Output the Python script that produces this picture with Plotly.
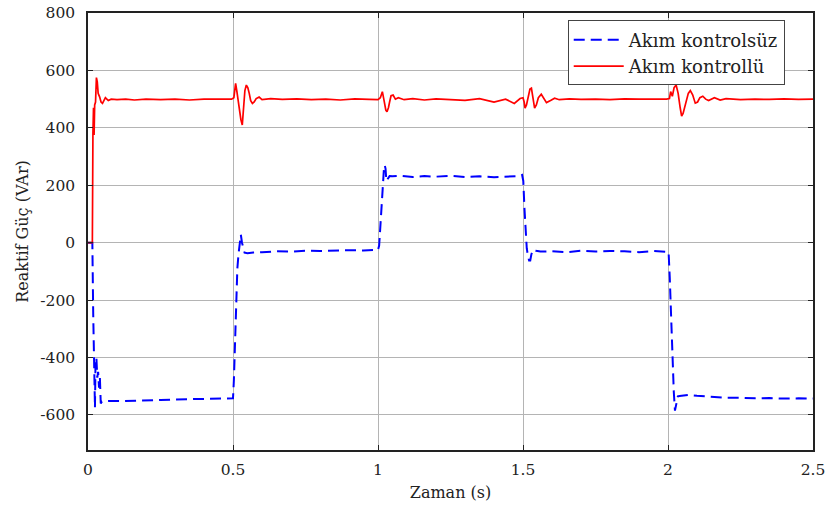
import plotly.graph_objects as go

# Akım kontrolsüz (blue dashed)
blue_t = [0, 0.015, 0.018, 0.020, 0.022, 0.024, 0.026, 0.029, 0.032, 0.035, 0.038, 0.041, 0.044, 0.048,
          0.06, 0.08, 0.12, 0.16, 0.20, 0.25, 0.30, 0.35, 0.40, 0.45, 0.49, 0.500,
          0.503, 0.507, 0.511, 0.515, 0.519, 0.523, 0.527, 0.531, 0.535, 0.540, 0.550, 0.57, 0.60, 0.65,
          0.70, 0.75, 0.80, 0.85, 0.90, 0.95, 0.99, 1.000,
          1.004, 1.008, 1.013, 1.017, 1.020, 1.023, 1.026, 1.029, 1.033, 1.040, 1.050, 1.08, 1.12, 1.16,
          1.20, 1.25, 1.30, 1.35, 1.40, 1.45, 1.49, 1.497,
          1.501, 1.505, 1.509, 1.513, 1.517, 1.521, 1.525, 1.529, 1.535, 1.545, 1.56, 1.60, 1.65, 1.70,
          1.75, 1.80, 1.85, 1.90, 1.95, 1.99, 2.002,
          2.006, 2.010, 2.015, 2.020, 2.024, 2.027, 2.030, 2.034, 2.040, 2.050, 2.07, 2.10, 2.15, 2.20,
          2.25, 2.30, 2.35, 2.40, 2.45, 2.50]
blue_v = [0, 0, -250, -420, -520, -575, -410, -400, -470, -450, -505, -470, -560, -553,
          -552, -551, -552, -550, -549, -548, -546, -545, -546, -543, -542, -542,
          -480, -330, -200, -90, -40, 10, 28, 0, -20, -35, -37, -34, -33, -30,
          -31, -28, -29, -27, -26, -27, -25, -25,
          -10, 60, 150, 210, 250, 270, 258, 215, 222, 232, 231, 233, 229, 232,
          230, 233, 229, 231, 228, 230, 232, 236,
          215, 120, 40, -20, -45, -62, -62, -40, -24, -28, -31, -30, -33, -28,
          -31, -29, -30, -33, -29, -31, -32,
          -120, -250, -400, -520, -585, -570, -545, -535, -534, -532, -530, -533, -536, -540,
          -540, -542, -541, -543, -542, -543]

# Akım kontrollü (red solid)
red_t = [0, 0.015, 0.017, 0.019, 0.021, 0.023, 0.026, 0.029, 0.032, 0.035, 0.040, 0.045, 0.050,
         0.055, 0.060, 0.065, 0.070, 0.08, 0.10, 0.13, 0.16, 0.20, 0.25, 0.30, 0.35, 0.40, 0.45, 0.495,
         0.503, 0.509, 0.513, 0.517, 0.522, 0.527, 0.532, 0.536, 0.541, 0.546, 0.551, 0.556, 0.561,
         0.567, 0.573, 0.580, 0.59, 0.60, 0.63, 0.67, 0.72, 0.77, 0.82, 0.87, 0.92, 0.97, 1.000,
         1.008, 1.015, 1.020, 1.027, 1.031, 1.036, 1.040, 1.045, 1.052, 1.060, 1.07, 1.09, 1.12, 1.16,
         1.20, 1.25, 1.30, 1.35, 1.40, 1.44, 1.47, 1.49, 1.500,
         1.504, 1.507, 1.512, 1.518, 1.524, 1.529, 1.534, 1.540, 1.546, 1.553, 1.563, 1.572, 1.581,
         1.595, 1.609, 1.625, 1.66, 1.70, 1.75, 1.80, 1.85, 1.90, 1.95, 1.995,
         2.005, 2.009, 2.015, 2.021, 2.028, 2.035, 2.042, 2.047, 2.052, 2.060, 2.070, 2.077, 2.085,
         2.094, 2.102, 2.110, 2.120, 2.130, 2.140, 2.160, 2.180, 2.20, 2.25, 2.30, 2.35, 2.40, 2.45, 2.50]
red_v = [0, 0, 380, 470, 375, 480, 490, 575, 560, 520, 508, 490, 485,
         495, 505, 500, 495, 500, 498, 500, 497, 500, 498, 500, 497, 500, 499, 500,
         505, 555, 530, 500, 470, 430, 410, 470, 530, 549, 540, 520, 495,
         485, 490, 502, 507, 498, 502, 499, 501, 498, 500, 497, 501, 499, 498,
         505, 526, 500, 462, 456, 470, 490, 512, 514, 500, 505, 498, 502, 497,
         501, 499, 496, 502, 490, 500, 485, 502, 505,
         490, 469, 480, 510, 535, 538, 505, 469, 480, 505, 517, 500, 488,
         495, 503, 498, 501, 499, 500, 498, 501, 500, 499, 500,
         502, 526, 510, 540, 549, 520, 470, 441, 450, 480, 520, 530, 515,
         486, 490, 505, 510, 500, 495, 505, 497, 502, 498, 500, 499, 501, 499, 500]

x_ticks = [0, 0.5, 1, 1.5, 2, 2.5]
x_tick_text = ["0", "0.5", "1", "1.5", "2", "2.5"]
y_ticks = [-600, -400, -200, 0, 200, 400, 600, 800]
y_tick_text = ["-600", "-400", "-200", "0", "200", "400", "600", "800"]

SERIF = "DejaVu Serif, serif"

fig = go.Figure()
fig.add_trace(go.Scatter(x=blue_t, y=blue_v, mode="lines", name="Akım kontrolsüz",
                         line=dict(color="#0000ff", width=2, dash="11px,6px")))
fig.add_trace(go.Scatter(x=red_t, y=red_v, mode="lines", name="Akım kontrollü",
                         line=dict(color="#ff0000", width=1.7)))

axis_common = dict(showgrid=True, gridcolor="#b4b4b4", gridwidth=1, zeroline=False,
                   showline=True, linecolor="#222222", linewidth=1.5, mirror="ticks",
                   ticks="inside", ticklen=5, tickcolor="#222222", automargin=False,
                   tickfont=dict(family=SERIF, size=15.5, color="#222222"))

# figure slightly wider than the window (extra space hidden) so the "2.5" label is not dropped
fig.update_layout(
    width=840, height=513,
    margin=dict(l=88, r=27, t=13, b=63),
    paper_bgcolor="white", plot_bgcolor="white",
    font=dict(family=SERIF, color="#222222"),
    xaxis=dict(range=[0, 2.5], tickvals=x_ticks, ticktext=x_tick_text, ticklabelstandoff=5,
               title=dict(text="Zaman (s)", font=dict(family=SERIF, size=16), standoff=8), **axis_common),
    yaxis=dict(range=[-722, 800], tickvals=y_ticks, ticktext=y_tick_text, ticklabelstandoff=8,
               title=dict(text="Reaktif Güç (VAr)", font=dict(family=SERIF, size=16), standoff=8), **axis_common),
    legend=dict(x=0.961, y=0.983, xanchor="right", yanchor="top",
                bgcolor="white", bordercolor="#444444", borderwidth=1,
                font=dict(family=SERIF, size=18, color="#222222"),
                tracegroupgap=0, itemwidth=50),
    showlegend=True,
)

# remove the browser's default 8px body margin and hide overflow
fig.write_html("out.html", config={"displayModeBar": False},
               post_script="document.body.style.margin='0';document.body.style.overflow='hidden';")
